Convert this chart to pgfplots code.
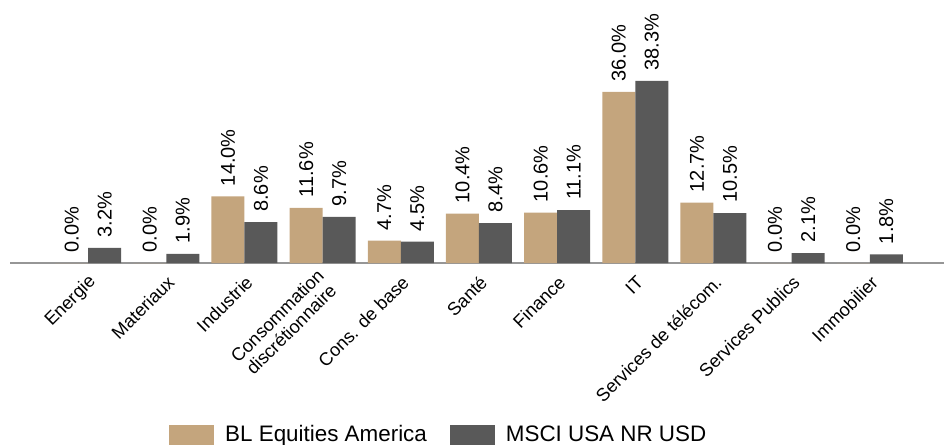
\documentclass[border=0pt]{standalone}
\usepackage{fontspec}
\setmainfont{Liberation Sans}
\usepackage{pgfplots}
\pgfplotsset{compat=1.18}
\definecolor{tanbar}{RGB}{196,165,125}
\definecolor{darkbar}{RGB}{89,89,89}
\definecolor{axgray}{RGB}{150,150,150}
\begin{document}
\begin{tikzpicture}
\useasboundingbox (0,0) rectangle (472bp,222.5bp);
\begin{axis}[
  at={(5bp,91bp)}, anchor=south west,
  scale only axis, width=467bp, height=131.5bp,
  xmin=-1, xmax=10.95, ymin=0, ymax=55.3,
  clip=false,
  axis y line=none, axis x line=bottom,
  axis line style={-, draw=axgray, line width=0.75bp},
  ybar=0pt, bar width=16.5bp,
  xtick={0,...,10}, major tick length=0pt,
  xticklabels={Energie, Materiaux, Industrie, {Consommation\\discrétionnaire}, Cons. de base, Santé, Finance, IT, Services de télécom., Services Publics, Immobilier},
  xticklabel style={font=\fontsize{9.1bp}{9.8bp}\selectfont, align=center, inner sep=0pt, yshift=-8bp, xshift=2.5bp, rotate=45, anchor=east},
  nodes near coords={\pgfmathprintnumber{\pgfplotspointmeta}\%},
  /pgf/number format/.cd, fixed, fixed zerofill, precision=1, assume math mode=true, /pgfplots/.cd,
  every node near coord/.append style={rotate=90, anchor=west, inner sep=0pt, inner xsep=5bp, font=\fontsize{10bp}{11bp}\selectfont, text=black},
  legend columns=2,
  legend cell align=left,
  legend image code/.code={\fill[#1] (0bp,-5bp) rectangle (22.5bp,5bp);},
  legend style={at={(0.458,-0.654)}, anchor=center, draw=none, fill=none, inner sep=0pt,
    font=\fontsize{11.2bp}{13bp}\selectfont, nodes={inner sep=0pt},
    /tikz/every odd column/.append style={column sep=5.5bp},
    /tikz/every even column/.append style={column sep=11.5bp}},
]
\addplot[fill=tanbar, draw=none] coordinates {(0,0) (1,0) (2,14.0) (3,11.6) (4,4.7) (5,10.4) (6,10.6) (7,36.0) (8,12.7) (9,0) (10,0)};
\addplot[fill=darkbar, draw=none] coordinates {(0,3.2) (1,1.9) (2,8.6) (3,9.7) (4,4.5) (5,8.4) (6,11.1) (7,38.3) (8,10.5) (9,2.1) (10,1.8)};
\legend{BL Equities America, MSCI USA NR USD}
\end{axis}
\end{tikzpicture}
\end{document}
